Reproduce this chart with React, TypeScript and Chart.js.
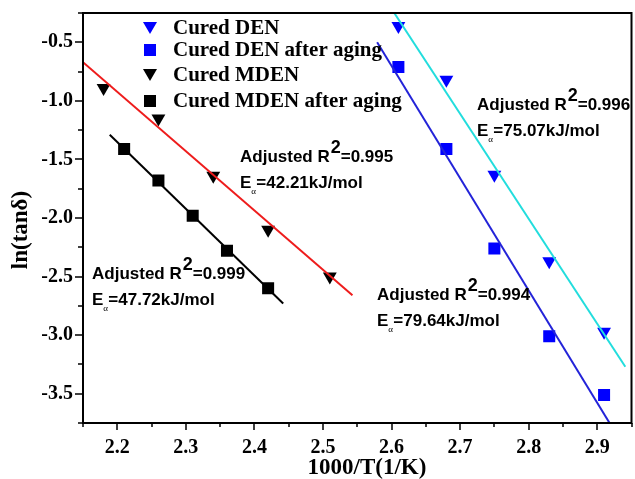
import React, { useEffect, useRef } from "react";
import { Chart, registerables } from "chart.js";

Chart.register(...registerables);

// ---- data ----
const xDEN = [2.61, 2.68, 2.75, 2.83, 2.91];
const yDEN = [-0.36, -0.82, -1.63, -2.37, -2.97];
const xDENAged = [2.61, 2.68, 2.75, 2.83, 2.91];
const yDENAged = [-0.71, -1.41, -2.26, -3.01, -3.51];
const xMDEN = [2.18, 2.26, 2.34, 2.42, 2.51];
const yMDEN = [-0.89, -1.15, -1.64, -2.1, -2.5];
const xMDENAged = [2.21, 2.26, 2.31, 2.36, 2.42];
const yMDENAged = [-1.41, -1.68, -1.98, -2.28, -2.6];

// linear-fit segments (end points)
const fitDENX = [2.604, 2.941];
const fitDENY = [-0.25, -3.27];
const fitDENAgedX = [2.579, 2.918];
const fitDENAgedY = [-0.5, -3.75];
const fitMDENX = [2.15, 2.543];
const fitMDENY = [-0.67, -2.66];
const fitMDENAgedX = [2.189, 2.442];
const fitMDENAgedY = [-1.29, -2.73];

const seriesLabels = ["Cured DEN", "Cured DEN after aging", "Cured MDEN", "Cured MDEN after aging"];
const r2Values = ["0.995", "0.996", "0.999", "0.994"];
const eaValues = ["42.21", "75.07", "47.72", "79.64"];

const xTickValues = [2.2, 2.3, 2.4, 2.5, 2.6, 2.7, 2.8, 2.9];
const yTickValues = [-3.5, -3.0, -2.5, -2.0, -1.5, -1.0, -0.5];
const xMinorValues = [2.15, 2.25, 2.35, 2.45, 2.55, 2.65, 2.75, 2.85, 2.95];
const yMinorValues = [-3.75, -3.25, -2.75, -2.25, -1.75, -1.25, -0.75, -0.25];

const xTitle = "1000/T(1/K)";
const yTitle = "ln(tanδ)";

// ---- styles / layout ----
const SERIF = '"Liberation Serif", "Times New Roman", serif';
const SANS = '"Liberation Sans", Arial, sans-serif';
const BLUE = "#0000ff";
const BLACK = "#000000";

const annotationPos = [
  { x: 240, y: 156 },
  { x: 477, y: 104 },
  { x: 92, y: 273 },
  { x: 377, y: 294 },
];
const legendRows = [28, 50, 75, 101];

const zip = (xs: number[], ys: number[]) => xs.map((x, i) => ({ x, y: ys[i] }));

const decorPlugin = {
  id: "decor",
  afterDraw(chart: any) {
    const { ctx, chartArea: a, scales } = chart;
    const sx = scales.x;
    const sy = scales.y;
    ctx.save();
    // frame
    ctx.strokeStyle = BLACK;
    ctx.lineWidth = 2;
    ctx.beginPath();
    ctx.moveTo(a.left, a.top);
    ctx.lineTo(a.right, a.top);
    ctx.lineTo(a.right, a.bottom);
    ctx.lineTo(a.left, a.bottom);
    ctx.closePath();
    ctx.stroke();
    // ticks
    ctx.lineWidth = 1.5;
    ctx.beginPath();
    xTickValues.forEach((v) => {
      const px = Math.round(sx.getPixelForValue(v));
      ctx.moveTo(px, a.bottom);
      ctx.lineTo(px, a.bottom + 7);
    });
    xMinorValues.forEach((v) => {
      const px = Math.round(sx.getPixelForValue(v));
      ctx.moveTo(px, a.bottom);
      ctx.lineTo(px, a.bottom + 4);
    });
    yTickValues.forEach((v) => {
      const py = Math.round(sy.getPixelForValue(v));
      ctx.moveTo(a.left, py);
      ctx.lineTo(a.left - 8, py);
    });
    yMinorValues.forEach((v) => {
      const py = Math.round(sy.getPixelForValue(v));
      ctx.moveTo(a.left, py);
      ctx.lineTo(a.left - 5, py);
    });
    ctx.stroke();

    // axis titles
    ctx.fillStyle = BLACK;
    ctx.font = `bold 23px ${SERIF}`;
    ctx.textAlign = "center";
    ctx.textBaseline = "middle";
    ctx.fillText(xTitle, 367, 468);
    ctx.save();
    ctx.translate(21, 230);
    ctx.rotate(-Math.PI / 2);
    ctx.fillText(yTitle, 0, 0);
    ctx.restore();

    // legend
    const styles = [
      { shape: "tri", color: BLUE },
      { shape: "sq", color: BLUE },
      { shape: "tri", color: BLACK },
      { shape: "sq", color: BLACK },
    ];
    ctx.font = `bold 21px ${SERIF}`;
    ctx.textAlign = "left";
    ctx.textBaseline = "middle";
    legendRows.forEach((ry, i) => {
      const st = styles[i];
      ctx.fillStyle = st.color;
      ctx.beginPath();
      if (st.shape === "tri") {
        ctx.moveTo(143, ry - 6);
        ctx.lineTo(157, ry - 6);
        ctx.lineTo(150, ry + 6);
        ctx.closePath();
      } else {
        ctx.rect(144, ry - 6, 12, 12);
      }
      ctx.fill();
      ctx.fillStyle = BLACK;
      ctx.fillText(seriesLabels[i], 173, ry + 1);
    });

    // annotations
    ctx.textBaseline = "alphabetic";
    annotationPos.forEach((p, i) => {
      const base1 = p.y + 6;
      ctx.font = `bold 17px ${SANS}`;
      ctx.fillStyle = BLACK;
      let cx = p.x;
      const t1 = "Adjusted R";
      ctx.fillText(t1, cx, base1);
      cx += ctx.measureText(t1).width;
      ctx.font = `bold 18px ${SANS}`;
      ctx.fillText("2", cx + 1, base1 - 9);
      cx += ctx.measureText("2").width + 1;
      ctx.font = `bold 17px ${SANS}`;
      ctx.fillText("=" + r2Values[i], cx, base1);

      const base2 = p.y + 26 + 6;
      cx = p.x;
      ctx.fillText("E", cx, base2);
      cx += ctx.measureText("E").width;
      ctx.font = `9px ${SERIF}`;
      ctx.fillText("α", cx, base2 + 6);
      cx += 5;
      ctx.font = `bold 17px ${SANS}`;
      ctx.fillText("=" + eaValues[i] + "kJ/mol", cx, base2);
    });
    ctx.restore();
  },
};

export default function App() {
  const ref = useRef<HTMLCanvasElement | null>(null);
  useEffect(() => {
    if (!ref.current) return;
    const tickFont = { family: SERIF, size: 20, weight: "bold" as const };
    const chart = new Chart(ref.current, {
      type: "scatter",
      data: {
        datasets: [
          {
            label: "fit DEN",
            data: zip(fitDENX, fitDENY),
            showLine: true,
            borderColor: "#22dddd",
            borderWidth: 2,
            pointRadius: 0,
          },
          {
            label: "fit DEN aged",
            data: zip(fitDENAgedX, fitDENAgedY),
            showLine: true,
            borderColor: "#2323d8",
            borderWidth: 2,
            pointRadius: 0,
          },
          {
            label: "fit MDEN",
            data: zip(fitMDENX, fitMDENY),
            showLine: true,
            borderColor: "#ee1c1c",
            borderWidth: 2,
            pointRadius: 0,
          },
          {
            label: "fit MDEN aged",
            data: zip(fitMDENAgedX, fitMDENAgedY),
            showLine: true,
            borderColor: BLACK,
            borderWidth: 2,
            pointRadius: 0,
          },
          {
            label: seriesLabels[0],
            data: zip(xDEN, yDEN),
            pointStyle: "triangle",
            rotation: 180,
            pointRadius: 8,
            backgroundColor: BLUE,
            borderColor: BLUE,
            borderWidth: 0,
          },
          {
            label: seriesLabels[1],
            data: zip(xDENAged, yDENAged),
            pointStyle: "rect",
            pointRadius: 8.5,
            backgroundColor: BLUE,
            borderColor: BLUE,
            borderWidth: 0,
          },
          {
            label: seriesLabels[2],
            data: zip(xMDEN, yMDEN),
            pointStyle: "triangle",
            rotation: 180,
            pointRadius: 8,
            backgroundColor: BLACK,
            borderColor: BLACK,
            borderWidth: 0,
          },
          {
            label: seriesLabels[3],
            data: zip(xMDENAged, yMDENAged),
            pointStyle: "rect",
            pointRadius: 8.5,
            backgroundColor: BLACK,
            borderColor: BLACK,
            borderWidth: 0,
          },
        ],
      },
      options: {
        animation: false,
        responsive: false,
        devicePixelRatio: 1,
        layout: { padding: { top: 13, right: 3, left: 0, bottom: 0 } },
        plugins: { legend: { display: false }, tooltip: { enabled: false } },
        scales: {
          x: {
            type: "linear",
            min: 2.15,
            max: 2.95,
            afterBuildTicks: (s: any) => {
              s.ticks = xTickValues.map((v) => ({ value: v }));
            },
            afterFit: (s: any) => {
              s.height = 56;
              s.paddingLeft = 0;
              s.paddingRight = 0;
            },
            grid: { display: false, drawTicks: false },
            border: { display: false },
            ticks: {
              font: tickFont,
              color: BLACK,
              padding: 13,
              maxRotation: 0,
              autoSkip: false,
              callback: (v: any) => Number(v).toFixed(1),
            },
          },
          y: {
            type: "linear",
            min: -3.75,
            max: -0.25,
            afterBuildTicks: (s: any) => {
              s.ticks = yTickValues.map((v) => ({ value: v }));
            },
            afterFit: (s: any) => {
              s.width = 83;
              s.paddingTop = 0;
              s.paddingBottom = 0;
            },
            grid: { display: false, drawTicks: false },
            border: { display: false },
            ticks: {
              font: tickFont,
              color: BLACK,
              padding: 10,
              autoSkip: false,
              callback: (v: any) => Number(v).toFixed(1),
            },
          },
        },
      },
      plugins: [decorPlugin],
    });
    return () => chart.destroy();
  }, []);

  return (
    <div
      style={{
        position: "fixed",
        left: 0,
        top: 0,
        width: 635,
        height: 479,
        overflow: "hidden",
        background: "#fff",
      }}
    >
      <canvas ref={ref} width={640} height={479} style={{ display: "block" }} />
    </div>
  );
}
